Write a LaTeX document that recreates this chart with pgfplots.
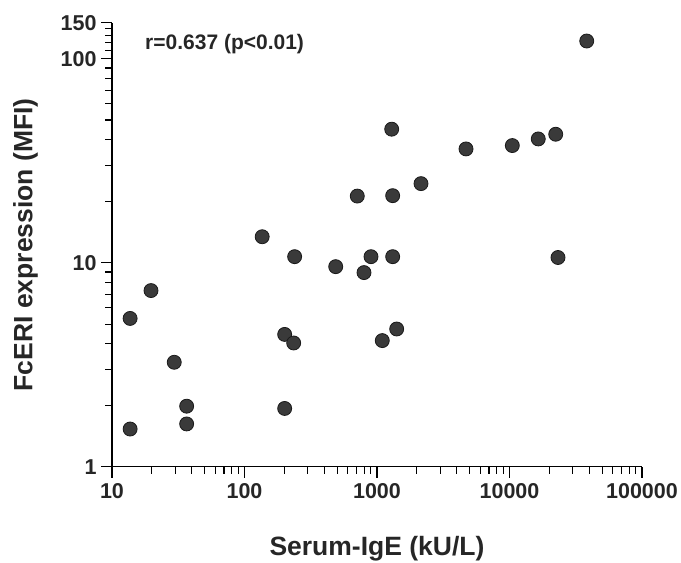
\documentclass[border=0pt]{standalone}
\usepackage{pgfplots}
\pgfplotsset{compat=1.18}
\usepackage{fontspec}
\setmainfont{Liberation Sans}
\definecolor{dotfill}{HTML}{3A3A3A}
\definecolor{dotedge}{HTML}{1A1A1A}
\begin{document}
\begin{tikzpicture}
\begin{axis}[
  at={(0pt,0pt)}, anchor=south west,
  width=530pt, height=444pt, scale only axis,
  xmode=log, ymode=log,
  xmin=10, xmax=100000, ymin=1, ymax=150,
  axis x line*=bottom, axis y line*=left,
  axis line style={line width=1.4pt,-},
  tick align=outside, tick pos=left,
  major tick length=11pt, minor tick length=7pt,
  every tick/.style={black, line width=1.1pt},
  xtick={10,100,1000,10000,100000},
  xticklabels={10,100,1000,10000,100000},
  minor xtick={20,30,40,50,60,70,80,90,200,300,400,500,600,700,800,900,2000,3000,4000,5000,6000,7000,8000,9000,20000,30000,40000,50000,60000,70000,80000,90000},
  ytick={1,10,100,150},
  yticklabels={1,10,100,150},
  minor ytick={2,3,4,5,6,7,8,9,20,30,40,50,60,70,80,90,110,120,130,140},
  /pgf/number format/assume math mode=true,
  tick label style={font=\fontsize{21.5}{24}\selectfont\bfseries, text=black!85},
  xticklabel style={yshift=-2pt},
  yticklabel style={xshift=-1pt},
  xlabel={Serum-IgE (kU/L)},
  ylabel={FcERI expression (MFI)},
  label style={font=\fontsize{26.5}{30}\selectfont\bfseries, text=black!85},
  xlabel style={at={(axis description cs:0.5,-0.184)}, anchor=center},
  ylabel style={at={(axis description cs:-0.163,0.5)}, anchor=center, rotate=0},
  clip=false,
]
\addplot[only marks, mark=*, mark size=7pt, mark options={fill=dotfill, draw=dotedge, line width=0.8pt}] coordinates {
(13.7,1.53) (13.7,5.33) (19.7,7.3) (29.5,3.25) (36.6,1.98) (36.6,1.62)
(136,13.4) (239,10.7) (201,4.45) (235,4.04) (201,1.93)
(488,9.56) (798,8.94) (901,10.7) (1096,4.15) (1313,10.7) (1408,4.73)
(710,21.2) (1313,21.3) (1291,45.1) (2148,24.4) (4697,36.1)
(10500,37.5) (16490,40.4) (22330,42.6) (23230,10.6) (38270,122)
};
\node[anchor=base west, font=\fontsize{21}{24}\selectfont\bfseries, text=black!85, inner sep=0pt]
  at (axis description cs:0.0623,0.940) {r=0.637 (p<0.01)};
\end{axis}
\pgfresetboundingbox
\path[use as bounding box] (-112pt,-96.3pt) rectangle (569pt,466.7pt);
\end{tikzpicture}
\end{document}
